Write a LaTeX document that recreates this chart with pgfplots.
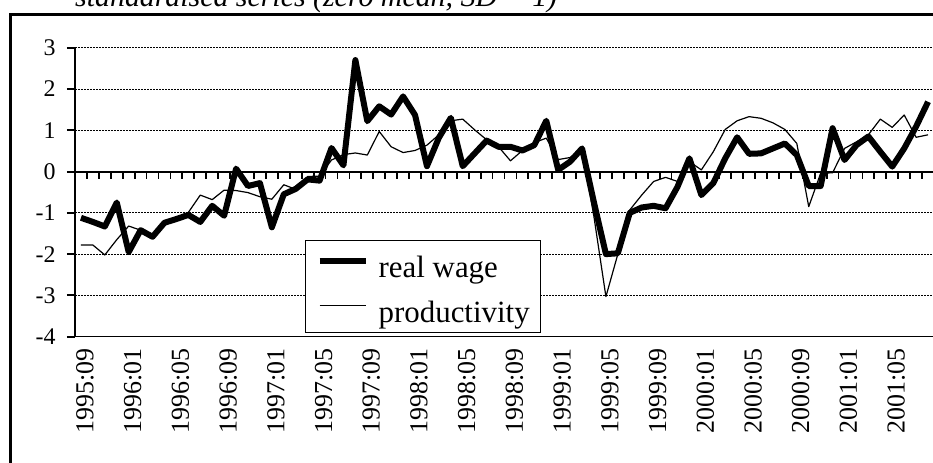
\documentclass[border=0pt]{standalone}
\usepackage{pgfplots}
\pgfplotsset{compat=1.18}
\usepackage{pgfplotstable}
\usepackage{fontspec}
\setmainfont{Liberation Serif}

\pgfplotstableread{
k rw pr
0 -1.12 -1.78
1 -1.22 -1.78
2 -1.33 -2.02
3 -0.75 -1.65
4 -1.95 -1.32
5 -1.42 -1.42
6 -1.58 -1.58
7 -1.24 -1.26
8 -1.15 -1.13
9 -1.05 -0.99
10 -1.22 -0.57
11 -0.83 -0.68
12 -1.07 -0.45
13 0.07 -0.46
14 -0.35 -0.51
15 -0.28 -0.61
16 -1.35 -0.67
17 -0.55 -0.32
18 -0.42 -0.43
19 -0.19 -0.12
20 -0.22 -0.11
21 0.57 0.28
22 0.15 0.41
23 2.70 0.45
24 1.22 0.40
25 1.58 0.97
26 1.38 0.60
27 1.82 0.46
28 1.37 0.51
29 0.13 0.64
30 0.82 0.89
31 1.30 1.23
32 0.13 1.27
33 0.44 1.01
34 0.75 0.77
35 0.60 0.60
36 0.60 0.26
37 0.51 0.51
38 0.64 0.70
39 1.23 0.81
40 0.04 0.29
41 0.24 0.34
42 0.56 0.56
43 -0.75 -1.10
44 -2.00 -3.03
45 -1.98 -2.00
46 -1.00 -0.93
47 -0.87 -0.57
48 -0.83 -0.24
49 -0.89 -0.14
50 -0.37 -0.24
51 0.32 0.24
52 -0.57 0.04
53 -0.28 0.48
54 0.32 1.02
55 0.83 1.23
56 0.43 1.33
57 0.44 1.29
58 0.56 1.18
59 0.68 1.02
60 0.40 0.68
61 -0.35 -0.85
62 -0.35 -0.04
63 1.05 -0.03
64 0.28 0.56
65 0.64 0.72
66 0.85 0.89
67 0.48 1.27
68 0.12 1.07
69 0.56 1.37
70 1.09 0.83
71 1.69 0.89
}\datatable

\begin{document}
\begin{tikzpicture}[x=1bp,y=1bp]
\useasboundingbox (-75,-126.3) rectangle (858,336.7);
\clip (-75,-126.3) rectangle (858,336.7);
\draw[line width=2.7bp] (-64.5,-160) rectangle (900,322);
\node[anchor=base west, font=\fontsize{30}{36}\selectfont\itshape, inner sep=0pt] at (0,329.7) {standardised series (zero mean, SD = 1)};
\begin{axis}[
  at={(0,0)}, anchor=south west,
  scale only axis, width=859bp, height=289bp,
  xmin=-0.5, xmax=71.5, ymin=-4, ymax=3,
  axis lines*=left,
  x axis line style={line width=1.5bp},
  y axis line style={line width=2.5bp},
  xtick={0,4,...,68},
  xticklabels={1995:09,1996:01,1996:05,1996:09,1997:01,1997:05,1997:09,1998:01,1998:05,1998:09,1999:01,1999:05,1999:09,2000:01,2000:05,2000:09,2001:01,2001:05},
  x tick label style={rotate=90, anchor=east, font=\fontsize{26}{30}\selectfont, yshift=-4bp},
  xtick style={draw=none},
  ytick={-4,-3,-2,-1,0,1,2,3},
  yticklabels={-4,-3,-2,-1,0,1,2,3},
  y tick label style={font=\fontsize{24}{28}\selectfont, xshift=-8bp},
  ytick style={line width=2bp, black},
  tick align=outside,
  major tick length=8bp,
  ymajorgrids,
  y grid style={black, line width=0.8bp, dash pattern=on 2bp off 1bp},
  legend style={at={(axis description cs:0.2678,0.0128)}, anchor=south west,
    draw=black, line width=1.3bp, font=\fontsize{31}{36}\selectfont,
    inner xsep=11bp, inner ysep=3bp, row sep=4bp, column sep=0bp,
    nodes={inner xsep=0bp, inner ysep=0bp, text height=34bp, text depth=7bp}},
  legend cell align=left,
  legend image code/.code={\draw[#1] (0bp,3bp) -- (46bp,3bp);},
  clip=false,
]
\draw[line width=2bp] (axis cs:-0.5,0) -- (axis cs:71.5,0);
\pgfplotsinvokeforeach{0.5,1.5,...,71.5}{\draw[line width=1.8bp] (axis cs:#1,0) -- (axis cs:#1,-0.186);}
\addplot[black, line width=6bp, line join=round] table[x=k, y=rw] {\datatable};
\addlegendentry{\hspace{10bp}real wage}
\addplot[black, line width=1.2bp, line join=round] table[x=k, y=pr] {\datatable};
\addlegendentry{\hspace{10bp}productivity}
\end{axis}
\end{tikzpicture}
\end{document}
